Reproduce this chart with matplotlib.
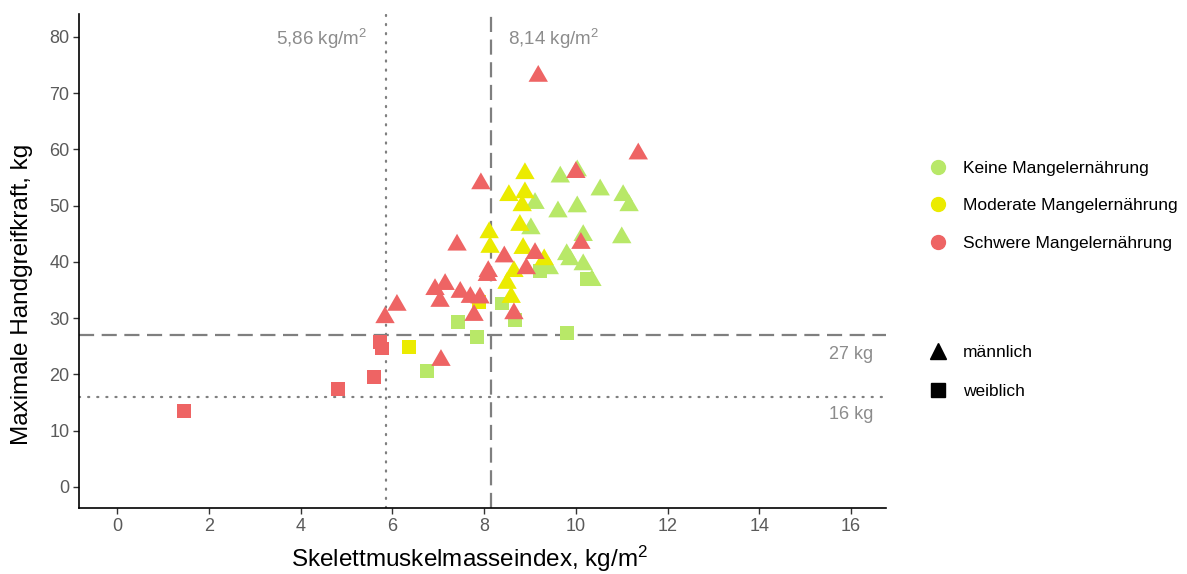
import matplotlib
matplotlib.use("Agg")
import matplotlib.pyplot as plt
from matplotlib.lines import Line2D

plt.rcParams['font.family'] = ['Liberation Sans', 'DejaVu Sans']
plt.rcParams['mathtext.fontset'] = 'custom'
plt.rcParams['mathtext.rm'] = 'Liberation Sans'
plt.rcParams['mathtext.default'] = 'regular'

# ---- data (SMI kg/m^2, grip strength kg) ----
green_m_x = [9.66, 10.03, 10.53, 11.03, 11.16, 9.11, 9.61, 10.03, 9.02, 10.16, 11.0, 9.8, 9.87, 9.42, 10.16, 10.35]
green_m_y = [55.1, 56.2, 52.8, 51.8, 50.0, 50.4, 48.9, 49.8, 45.9, 44.7, 44.3, 41.3, 40.4, 38.8, 39.5, 36.7]
green_f_x = [9.22, 10.24, 8.39, 8.68, 7.43, 7.85, 9.81, 6.76]
green_f_y = [38.3, 36.9, 32.6, 29.6, 29.3, 26.6, 27.3, 20.6]

yellow_m_x = [8.89, 8.54, 8.89, 8.83, 8.78, 8.11, 8.13, 8.85, 9.31, 8.65, 8.5, 8.59]
yellow_m_y = [55.7, 51.8, 52.3, 50.0, 46.5, 45.2, 42.6, 42.4, 40.4, 38.3, 36.2, 33.7]
yellow_f_x = [7.89, 6.37]
yellow_f_y = [32.8, 24.8]

red_m_x = [9.18, 11.36, 10.0, 7.93, 10.11, 7.41, 8.44, 9.11, 8.09, 8.07, 8.92, 6.93, 7.15, 7.04, 7.48, 7.7, 7.91, 7.78, 8.65, 6.1, 5.84, 7.06]
red_m_y = [73.0, 59.2, 55.9, 53.9, 43.3, 43.0, 40.9, 41.5, 38.3, 37.6, 38.8, 35.1, 36.0, 33.0, 34.6, 33.7, 33.6, 30.5, 30.8, 32.3, 30.1, 22.5]
red_f_x = [5.73, 5.78, 5.6, 4.82, 1.46]
red_f_y = [25.7, 24.6, 19.5, 17.4, 13.5]

groups = ['Keine Mangelernährung', 'Moderate Mangelernährung', 'Schwere Mangelernährung']
sexes = ['männlich', 'weiblich']
x_cut_f, x_cut_m = 5.86, 8.14
y_cut_m, y_cut_f = 27, 16
x_ticks = [0, 2, 4, 6, 8, 10, 12, 14, 16]
y_ticks = [0, 10, 20, 30, 40, 50, 60, 70, 80]

colors = ['#B8E868', '#EBEB00', '#EE6464']
tri = [(0, 0.577), (-0.5, -0.289), (0.5, -0.289)]

fig = plt.figure(figsize=(11.87, 5.74), dpi=100)
ax = fig.add_axes([79/1187, 66/574, (886-79)/1187, (508-14)/574])

series = [
    (green_m_x, green_m_y, green_f_x, green_f_y),
    (yellow_m_x, yellow_m_y, yellow_f_x, yellow_f_y),
    (red_m_x, red_m_y, red_f_x, red_f_y),
]
for (mx, my, fx, fy), c in zip(series, colors):
    ax.scatter(mx, my, marker=tri, s=260, color=c, edgecolors='none', zorder=3)
    ax.scatter(fx, fy, marker='s', s=100, color=c, edgecolors='none', zorder=3)

lc = '#7F7F7F'
ax.axvline(x_cut_f, color=lc, lw=1.6, ls=(0, (0.5, 3.6)), dash_capstyle='round', zorder=2)
ax.axvline(x_cut_m, color=lc, lw=1.6, ls=(0, (6.8, 3.4)), zorder=2)
ax.axhline(y_cut_m, color=lc, lw=1.6, ls=(0, (6.8, 3.4)), zorder=2)
ax.axhline(y_cut_f, color=lc, lw=1.6, ls=(0, (0.5, 3.6)), dash_capstyle='round', zorder=2)

tc = '#8C8C8C'
ax.text(5.45, 79.6, r'5,86 kg/m$^{2}$', color=tc, fontsize=13.5, ha='right', va='center')
ax.text(8.52, 79.6, r'8,14 kg/m$^{2}$', color=tc, fontsize=13.5, ha='left', va='center')
ax.text(16.48, 23.6, '27 kg', color=tc, fontsize=13, ha='right', va='center')
ax.text(16.48, 12.9, '16 kg', color=tc, fontsize=13, ha='right', va='center')

ax.set_xlim(-0.83, 16.76)
ax.set_ylim(-3.75, 84.05)
ax.set_xticks(x_ticks)
ax.set_yticks(y_ticks)
ax.tick_params(axis='both', colors='#333333', labelcolor='#5A5A5A', labelsize=13, length=4, width=1, pad=3)
for s in ['top', 'right']:
    ax.spines[s].set_visible(False)
for s in ['left', 'bottom']:
    ax.spines[s].set_linewidth(1.2)
    ax.spines[s].set_color('black')

ax.set_xlabel(r'Skelettmuskelmasseindex, kg/m$^{2}$', fontsize=17.5, color='black')
ax.set_ylabel('Maximale Handgreifkraft, kg', fontsize=17.5, color='black')
ax.xaxis.set_label_coords(0.4845, -0.072)
ax.yaxis.set_label_coords(-0.057, 0.433)

h1 = [Line2D([], [], marker='o', ls='none', color=c, markersize=10) for c in colors]
leg1 = fig.legend(h1, groups, loc='upper left', bbox_to_anchor=(0.7698, 0.7315), frameon=False,
                  fontsize=12.5, handletextpad=0.44, labelspacing=1.27, borderaxespad=0)
h2 = [Line2D([], [], marker='^', ls='none', color='black', markersize=12),
      Line2D([], [], marker='s', ls='none', color='black', markersize=9.5)]
leg2 = fig.legend(h2, sexes, loc='upper left', bbox_to_anchor=(0.7698, 0.4112), frameon=False,
                  fontsize=12.5, handletextpad=0.44, labelspacing=1.38, borderaxespad=0)

fig.savefig('out.png', dpi=100)
